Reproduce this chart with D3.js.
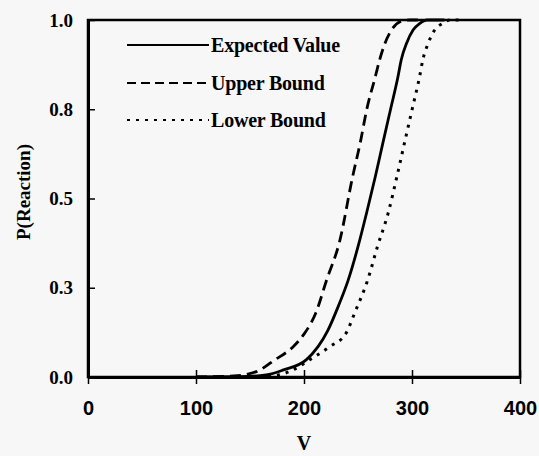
<!DOCTYPE html>
<html lang="en">
<head>
  <meta charset="UTF-8">
  <title>P(Reaction) vs V</title>
  <script src="https://d3js.org/d3.v7.min.js"></script>
  <style>
    body { margin: 0; background: #f7f7f7; }
  </style>
</head>
<body>
<script>
  // valores: [V, P]
  const expected = [[100,0],[140,0.001],[165,0.006],[181,0.02],[202,0.048],[213,0.085],[222,0.13],[232,0.2],[241,0.272],[250,0.365],[258,0.46],[266,0.561],[273,0.655],[280,0.748],[287,0.841],[290,0.888],[295,0.935],[301,0.972],[307,0.99],[314,1.0],[330,1.0]];
  const upper = [[100,0],[135,0.003],[156,0.015],[173,0.048],[190,0.085],[200,0.12],[211,0.18],[221,0.272],[233,0.38],[245,0.561],[252,0.655],[258,0.748],[266,0.841],[270,0.888],[275,0.935],[281,0.972],[289,0.995],[298,1.0],[310,1.0]];
  const lower = [[150,0],[175,0.005],[190,0.02],[205,0.048],[224,0.085],[239,0.123],[247,0.18],[259,0.272],[268,0.365],[278,0.46],[286,0.561],[293,0.655],[300,0.748],[307,0.841],[310,0.888],[315,0.935],[321,0.972],[328,0.99],[335,1.0],[345,1.0]];

  const seriesNames = ["Expected Value", "Upper Bound", "Lower Bound"];
  const xTicks = [0, 100, 200, 300, 400];
  const yTicks = [0, 0.25, 0.5, 0.75, 1.0];
  const yTickLabels = ["0.0", "0.3", "0.5", "0.8", "1.0"];

  const width = 539, height = 456;
  const margin = { top: 20, right: 19, bottom: 79, left: 88 };

  const svg = d3.select("body").append("svg")
    .attr("width", width)
    .attr("height", height);

  const x = d3.scaleLinear().domain([0, 400]).range([margin.left, width - margin.right]);
  const y = d3.scaleLinear().domain([0, 1]).range([height - margin.bottom, margin.top]);

  // moldura
  svg.append("rect")
    .attr("x", x(0)).attr("y", y(1))
    .attr("width", x(400) - x(0)).attr("height", y(0) - y(1))
    .style("fill", "none").style("stroke", "#000").style("stroke-width", 2.5);

  // eixos
  const xAxis = svg.append("g")
    .attr("transform", `translate(0, ${y(0)})`)
    .call(d3.axisBottom(x).tickValues(xTicks).tickSizeInner(7).tickSizeOuter(0).tickPadding(17));
  xAxis.select(".domain").style("stroke-width", 3);
  xAxis.selectAll(".tick line").attr("y1", -7).style("stroke-width", 1.5);
  xAxis.selectAll("text")
    .style("font-family", "'Liberation Sans', Arial, sans-serif")
    .style("font-weight", "bold").style("font-size", "20px").style("fill", "#000");

  const yAxis = svg.append("g")
    .attr("transform", `translate(${x(0)}, 0)`)
    .call(d3.axisLeft(y).tickValues(yTicks).tickFormat((d, i) => yTickLabels[i])
      .tickSizeInner(5).tickSizeOuter(0).tickPadding(10));
  yAxis.select(".domain").style("stroke-width", 3);
  yAxis.selectAll(".tick line").attr("x2", 7).style("stroke-width", 1.5);
  yAxis.selectAll("text")
    .style("font-family", "'Liberation Serif', 'Times New Roman', serif")
    .style("font-weight", "bold").style("font-size", "19px").style("fill", "#000");

  // títulos
  svg.append("text")
    .attr("x", (x(0) + x(400)) / 2).attr("y", 450)
    .style("text-anchor", "middle")
    .style("font-family", "'Liberation Serif', 'Times New Roman', serif")
    .style("font-weight", "bold").style("font-size", "20px")
    .text("V");

  svg.append("text")
    .attr("transform", `translate(30, 192) rotate(-90)`)
    .style("text-anchor", "middle")
    .style("font-family", "'Liberation Serif', 'Times New Roman', serif")
    .style("font-weight", "bold").style("font-size", "19px")
    .text("P(Reaction)");

  // curvas
  const line = d3.line()
    .x(d => x(d[0]))
    .y(d => y(d[1]))
    .curve(d3.curveMonotoneX);

  const dashes = ["none", "11,6", "3,6"];
  const widths = [2.8, 2.8, 3];
  [expected, upper, lower].forEach((s, i) => {
    svg.append("path")
      .datum(s)
      .attr("d", line)
      .style("fill", "none")
      .style("stroke", "#000")
      .style("stroke-width", widths[i])
      .style("stroke-dasharray", dashes[i]);
  });

  // legenda
  const legendDash = ["none", "9,5", "3,6"];
  const legendY = [45, 83, 120];
  seriesNames.forEach((name, i) => {
    svg.append("line")
      .attr("x1", 127).attr("x2", 209)
      .attr("y1", legendY[i]).attr("y2", legendY[i])
      .style("stroke", "#000").style("stroke-width", 2.2)
      .style("stroke-dasharray", legendDash[i]);
    svg.append("text")
      .attr("x", 211).attr("y", legendY[i] + 6.5)
      .style("font-family", "'Liberation Serif', 'Times New Roman', serif")
      .style("font-weight", "bold").style("font-size", "20px")
      .style("letter-spacing", "-0.2px")
      .text(name);
  });
</script>
</body>
</html>
